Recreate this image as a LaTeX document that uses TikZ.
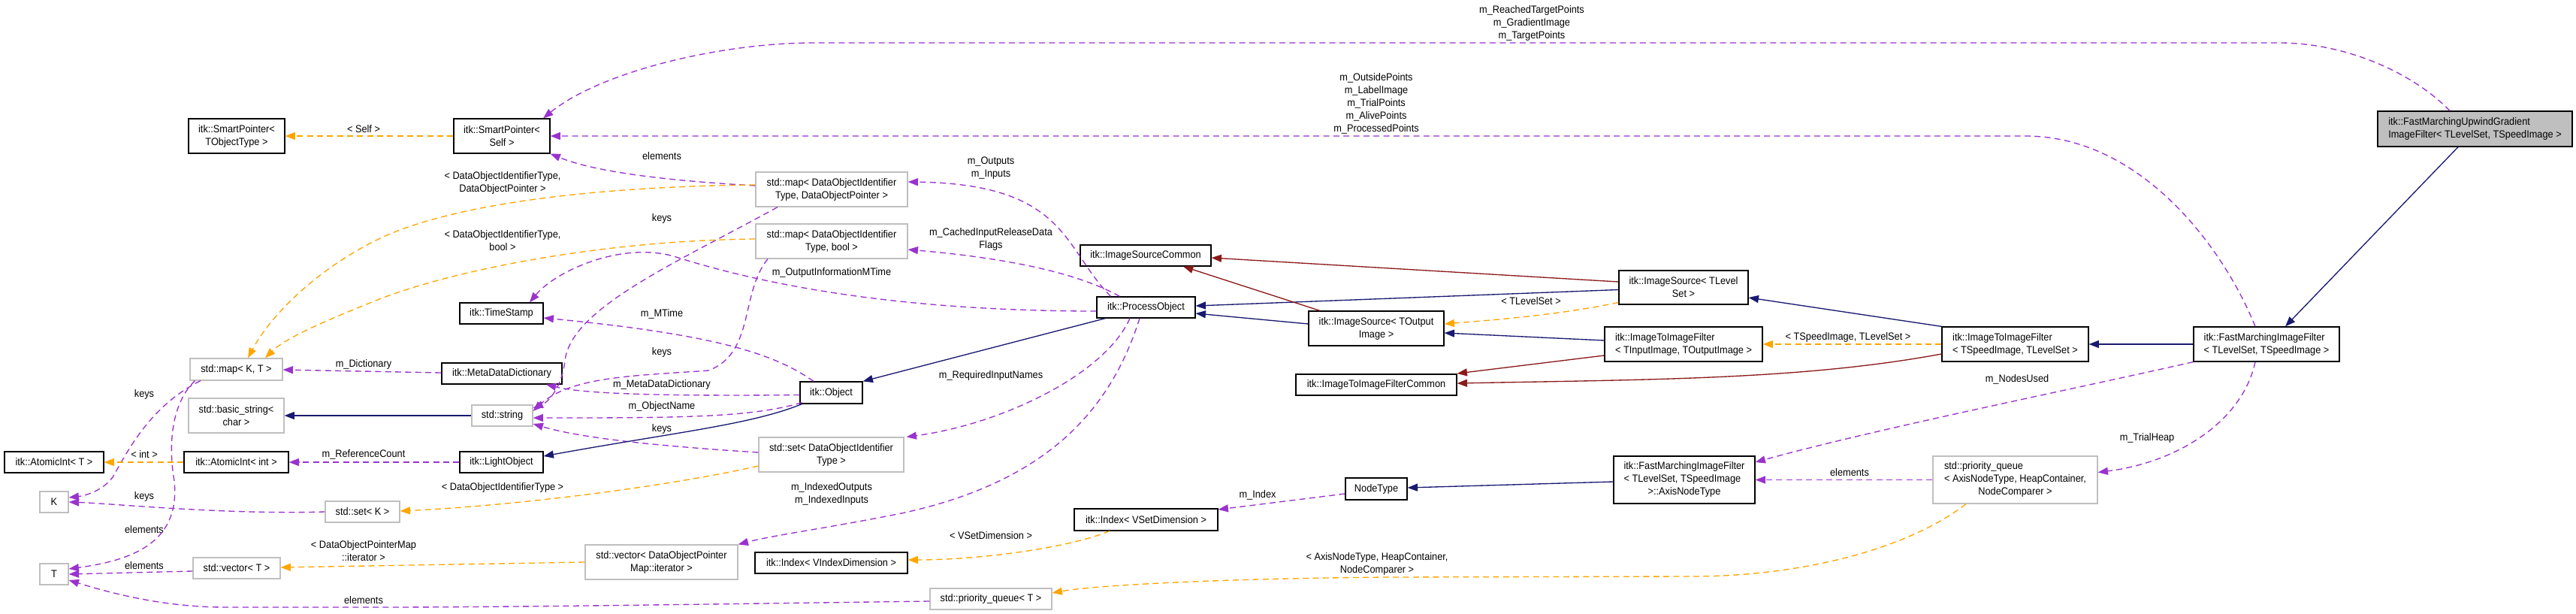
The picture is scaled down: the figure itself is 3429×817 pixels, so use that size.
\documentclass[tikz,border=0pt]{standalone}
\usepackage{fontspec}
\setmainfont{Liberation Sans}[FakeStretch=0.92]
\usetikzlibrary{arrows.meta,calc}
\definecolor{pubc}{HTML}{191970}
\definecolor{privc}{HTML}{8B1A1A}
\definecolor{usec}{HTML}{9A32CD}
\definecolor{instc}{HTML}{FFA500}
\definecolor{grayb}{HTML}{BFBFBF}
\definecolor{grayf}{HTML}{BFBFBF}
\newdimen\pxu \pxu=0.75pt
\newcommand\bxnode[6]{\node[#1,minimum width=#4\pxu,minimum height=#5\pxu] (#2) at (#3) {#6};}
\newcommand\lbnode[3]{\node[lbl] (#1) at (#2) {#3};}
\begin{document}
\begin{tikzpicture}[x=0.75pt,y=-0.75pt,
 every node/.style={font=\fontsize{10.4pt}{12.75pt}\selectfont},
 bbox/.style={draw=black,fill=white,line width=0.9pt,inner sep=0pt,align=center},
 gbox/.style={draw=grayb,fill=white,line width=0.9pt,inner sep=0pt,align=center},
 lbl/.style={inner sep=0pt,align=center},
 tip/.style={-{Triangle[length=10pt,width=7.5pt]}},
 usee/.style={tip,draw=usec,line width=1pt,dash pattern=on 6pt off 4pt},
 inst/.style={tip,draw=instc,line width=1pt,dash pattern=on 6pt off 4pt},
 pub/.style={tip,draw=pubc,line width=1pt},
 priv/.style={tip,draw=privc,line width=1pt}]
\useasboundingbox (0,0) rectangle (3429,817);
% nodes
\bxnode{bbox,fill=grayf,align=left}{fmu}{3294.5,171.5}{259}{47}{itk::FastMarchingUpwindGradient\\ImageFilter< TLevelSet, TSpeedImage >}
\bxnode{bbox,align=left}{fmif}{3017,458}{194}{46}{itk::FastMarchingImageFilter\\< TLevelSet, TSpeedImage >}
\bxnode{bbox,align=left}{itifsl}{2682.5,458}{195}{46}{itk::ImageToImageFilter\\< TSpeedImage, TLevelSet >}
\bxnode{gbox}{pqax}{2682.5,638.5}{219}{63}{\begin{tabular}{@{}l@{}}std::priority\_queue\\< AxisNodeType, HeapContainer,\\\multicolumn{1}{@{}c@{}}{NodeComparer >}\end{tabular}}
\bxnode{bbox}{isls}{2241,382.5}{172}{45}{itk::ImageSource< TLevel\\Set >}
\bxnode{bbox,align=left}{itifio}{2241,458}{210}{46}{itk::ImageToImageFilter\\< TInputImage, TOutputImage >}
\bxnode{bbox}{axis}{2242,638.5}{188}{63}{\begin{tabular}{@{}l@{}}itk::FastMarchingImageFilter\\< TLevelSet, TSpeedImage\\\multicolumn{1}{@{}c@{}}{>::AxisNodeType}\end{tabular}}
\bxnode{bbox}{isoi}{1832,437}{180}{46}{itk::ImageSource< TOutput\\Image >}
\bxnode{bbox}{itifc}{1832,512}{214}{28}{itk::ImageToImageFilterCommon}
\bxnode{bbox}{nodetype}{1832,650.5}{82}{29}{NodeType}
\bxnode{bbox}{po}{1525.5,409}{131}{28}{itk::ProcessObject}
\bxnode{bbox}{isc}{1525,340}{174}{28}{itk::ImageSourceCommon}
\bxnode{bbox}{idxs}{1525.5,691.5}{191}{29}{itk::Index< VSetDimension >}
\bxnode{gbox}{pqt}{1319,797}{162}{28}{std::priority\_queue< T >}
\bxnode{gbox}{mapdop}{1107,252}{202}{46}{std::map< DataObjectIdentifier\\Type, DataObjectPointer >}
\bxnode{gbox}{mapbool}{1107,321}{202}{46}{std::map< DataObjectIdentifier\\Type, bool >}
\bxnode{bbox}{obj}{1106.5,522.5}{83}{29}{itk::Object}
\bxnode{gbox}{setdoit}{1106.5,605}{193}{46}{std::set< DataObjectIdentifier\\Type >}
\bxnode{bbox}{idxv}{1106.5,749}{203}{28}{itk::Index< VIndexDimension >}
\bxnode{gbox}{vecit}{880.5,748}{203}{46}{std::vector< DataObjectPointer\\Map::iterator >}
\bxnode{bbox}{sps}{668,181}{128}{46}{itk::SmartPointer<\\Self >}
\bxnode{bbox}{ts}{667.5,417}{111}{28}{itk::TimeStamp}
\bxnode{bbox}{mdd}{668,497}{160}{28}{itk::MetaDataDictionary}
\bxnode{gbox}{str}{668.5,553}{81}{28}{std::string}
\bxnode{bbox}{lo}{667.5,615}{111}{28}{itk::LightObject}
\bxnode{gbox}{setk}{482.5,681}{99}{28}{std::set< K >}
\bxnode{bbox}{spt}{315,181}{128}{46}{itk::SmartPointer<\\TObjectType >}
\bxnode{gbox}{mapkt}{314.5,491.5}{123}{29}{std::map< K, T >}
\bxnode{gbox}{bstr}{314.5,553}{127}{46}{std::basic\_string<\\char >}
\bxnode{bbox}{aiint}{314.5,615}{139}{28}{itk::AtomicInt< int >}
\bxnode{gbox}{vect}{315,756}{116}{28}{std::vector< T >}
\bxnode{bbox}{ait}{72,615}{132}{28}{itk::AtomicInt< T >}
\bxnode{gbox}{k}{72,668}{38}{28}{K}
\bxnode{gbox}{t}{72,764}{38}{28}{T}
% labels
\lbnode{l1}{2039,31}{m\_ReachedTargetPoints\\m\_GradientImage\\m\_TargetPoints}
\lbnode{l2}{1832,137.5}{m\_OutsidePoints\\m\_LabelImage\\m\_TrialPoints\\m\_AlivePoints\\m\_ProcessedPoints}
\lbnode{l3}{881,208}{elements}
\lbnode{l4}{1319,224}{m\_Outputs\\m\_Inputs}
\lbnode{l5}{669,243}{< DataObjectIdentifierType,\\DataObjectPointer >}
\lbnode{l6}{881,291}{keys}
\lbnode{l7}{669,320}{< DataObjectIdentifierType,\\bool >}
\lbnode{l8}{1319,318}{m\_CachedInputReleaseData\\Flags}
\lbnode{l9}{1107,363}{m\_OutputInformationMTime}
\lbnode{l10}{484,172}{< Self >}
\lbnode{l11}{2038,401}{< TLevelSet >}
\lbnode{l12}{881,418}{m\_MTime}
\lbnode{l13}{2460,449}{< TSpeedImage, TLevelSet >}
\lbnode{l14}{881,469}{keys}
\lbnode{l15}{484,485}{m\_Dictionary}
\lbnode{l16}{1319,500}{m\_RequiredInputNames}
\lbnode{l17}{2685,505}{m\_NodesUsed}
\lbnode{l18}{881,512}{m\_MetaDataDictionary}
\lbnode{l19}{192,525}{keys}
\lbnode{l20}{881,541}{m\_ObjectName}
\lbnode{l21}{881,571}{keys}
\lbnode{l22}{2858,583}{m\_TrialHeap}
\lbnode{l23}{192,605}{< int >}
\lbnode{l24}{484,605}{m\_ReferenceCount}
\lbnode{l25}{2462,629}{elements}
\lbnode{l26}{669,649}{< DataObjectIdentifierType >}
\lbnode{l27}{1107,657}{m\_IndexedOutputs\\m\_IndexedInputs}
\lbnode{l28}{1674,659}{m\_Index}
\lbnode{l29}{192,661}{keys}
\lbnode{l30}{192,705}{elements}
\lbnode{l31}{1319,713}{< VSetDimension >}
\lbnode{l32}{484,733}{< DataObjectPointerMap\\::iterator >}
\lbnode{l33}{1833,750}{< AxisNodeType, HeapContainer,\\NodeComparer >}
\lbnode{l34}{192,753}{elements}
\lbnode{l35}{484,799}{elements}
% usage edges
\draw[usee] ($(fmu.north)+(-33.5,0)$) .. controls (3210,95) and (3120,57) .. (3034,57) -- (1083,57) .. controls (960,57) and (800,95) .. ($(sps.north)+(55,0)$);
\draw[usee] ($(fmif.north)+(-15,0)$) .. controls (2960,330) and (2850,181) .. (2696,181) -- (sps.east);
\draw[usee] ($(mapdop.west)+(0,-5)$) .. controls (880,240) and (790,228) .. (sps.south east);
\draw[usee] ($(po.north)+(-47,0)$) .. controls (1415,330) and (1420,245) .. ($(mapdop.east)+(0,-10)$);
\draw[usee] ($(po.north)+(-35,0)$) .. controls (1420,355) and (1300,340) .. ($(mapbool.east)+(0,11)$);
\draw[usee] ($(po.west)+(0,5)$) .. controls (1200,414) and (1020,380) .. (900,342) .. controls (830,320) and (740,360) .. ($(ts.north)+(37.5,0)$);
\draw[usee] ($(obj.north)+(-23.5,0)$) .. controls (1030,470) and (950,445) .. ($(ts.east)+(0,6)$);
\draw[usee] ($(obj.west)+(0,3)$) .. controls (900,527) and (780,525) .. ($(mdd.south)+(59,0)$);
\draw[usee] ($(obj.south west)+(3,-2)$) .. controls (1000,556) and (900,556) .. ($(str.east)+(0,3)$);
\draw[usee] ($(mapdop.south)+(-72,0)$) .. controls (900,350) and (760,410) .. (752,480) .. controls (748,515) and (730,535) .. ($(str.east)+(0,-10)$);
\draw[usee] ($(mapbool.south)+(-85,0)$) .. controls (985,390) and (1005,470) .. (943,493) .. controls (850,500) and (760,500) .. ($(str.east)+(0,-6)$);
\draw[usee] ($(setdoit.west)+(0,-3)$) .. controls (900,595) and (780,585) .. ($(str.east)+(0,11)$);
\draw[usee] ($(po.south)+(-21.5,0)$) .. controls (1470,500) and (1330,565) .. ($(setdoit.north east)+(3,0)$);
\draw[usee] ($(po.south)+(-8.5,0)$) .. controls (1480,540) and (1400,640) .. (1200,683) .. controls (1100,703) and (1030,712) .. (vecit.north east);
\draw[usee] ($(mdd.west)+(0,-1)$) -- ($(mapkt.east)+(0,0.5)$);
\draw[usee] (lo.west) -- (aiint.east);
\draw[usee] ($(mapkt.south)+(-47.5,0)$) .. controls (200,540) and (170,600) .. (150,635) .. controls (135,655) and (110,660) .. ($(k.east)+(0,-6)$);
\draw[usee] ($(mapkt.south)+(-55,0)$) .. controls (225,540) and (225,600) .. (232,640) .. controls (240,720) and (180,745) .. ($(t.east)+(0,-7)$);
\draw[usee] (setk.west) .. controls (300,685) and (150,670) .. (k.east);
\draw[usee] ($(vect.west)+(0,4)$) -- (t.east);
\draw[usee] ($(pqt.west)+(0,3)$) .. controls (1000,803) and (700,808) .. (500,808) -- (300,808) .. controls (220,808) and (150,790) .. ($(t.east)+(0,8)$);
\draw[usee] ($(nodetype.west)+(0,6.5)$) -- ($(idxs.east)+(0,-13.5)$);
\draw[usee] (fmif.south west) .. controls (2750,520) and (2500,570) .. ($(axis.east)+(0,-23.5)$);
\draw[usee] (pqax.west) -- (axis.east);
\draw[usee] ($(fmif.south)+(-15,0)$) .. controls (2985,560) and (2900,615) .. ($(pqax.east)+(0,-10)$);
% template instantiation edges
\draw[inst] (sps.west) -- (spt.east);
\draw[inst] ($(mapdop.west)+(0,-6)$) .. controls (800,248) and (600,270) .. (500,320) .. controls (420,360) and (360,420) .. ($(mapkt.north)+(15.5,0)$);
\draw[inst] ($(mapbool.west)+(0,-3)$) .. controls (800,320) and (600,360) .. (500,400) .. controls (430,428) and (380,450) .. ($(mapkt.north)+(38.5,0)$);
\draw[inst] ($(setdoit.west)+(0,15)$) .. controls (900,645) and (700,672) .. ($(setk.east)+(0,-1)$);
\draw[inst] (vecit.west) -- ($(vect.east)+(0,-1)$);
\draw[inst] (aiint.west) -- (ait.east);
\draw[inst] ($(idxs.south)+(-48.5,0)$) .. controls (1420,730) and (1300,745) .. ($(idxv.east)+(0,-4)$);
\draw[inst] ($(pqax.south)+(-65.5,0)$) .. controls (2540,730) and (2400,767) .. (2250,767) -- (1850,768) .. controls (1600,770) and (1450,780) .. ($(pqt.east)+(0,-8)$);
\draw[inst] (itifsl.west) -- (itifio.east);
\draw[inst] ($(isls.west)+(0,20)$) .. controls (2080,418) and (2000,425) .. ($(isoi.east)+(0,-6)$);
% public inheritance
\draw[pub] ($(fmu.south)+(-22.5,0)$) -- ($(fmif.north)+(25,0)$);
\draw[pub] (fmif.west) -- (itifsl.east);
\draw[pub] (itifsl.north west) -- ($(isls.east)+(0,13.5)$);
\draw[pub] ($(isls.west)+(0,3)$) -- ($(po.east)+(0,-2)$);
\draw[pub] ($(isoi.west)+(0,-6)$) -- ($(po.east)+(0,8)$);
\draw[pub] ($(itifio.west)+(0,-5)$) -- ($(isoi.east)+(0,6)$);
\draw[pub] ($(po.south west)+(12,0)$) -- (obj.north east);
\draw[pub] ($(obj.south west)+(3,0)$) .. controls (1000,565) and (900,575) .. ($(lo.east)+(0,-8)$);
\draw[pub] (str.west) -- (bstr.east);
\draw[pub] ($(axis.west)+(0,2.5)$) -- ($(nodetype.east)+(0,-1.5)$);
% private inheritance
\draw[priv] ($(isls.west)+(0,-7.5)$) -- ($(isc.east)+(0,3)$);
\draw[priv] ($(isoi.north)+(-75,0)$) -- ($(isc.south)+(50,0)$);
\draw[priv] ($(itifio.west)+(0,15)$) -- ($(itifc.east)+(0,-15)$);
\draw[priv] ($(itifsl.west)+(0,13)$) .. controls (2400,505) and (2200,505) .. ($(itifc.east)+(0,-2)$);
\end{tikzpicture}
\end{document}
